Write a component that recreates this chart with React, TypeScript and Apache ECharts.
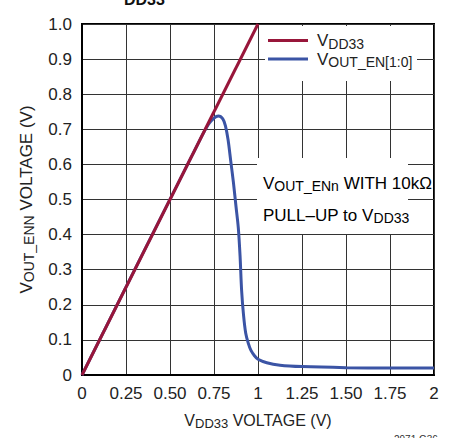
import React, { useEffect, useRef } from "react";
import * as echarts from "echarts";

const X_TICK_LABELS = ["0", "0.25", "0.50", "0.75", "1", "1.25", "1.50", "1.75", "2"];
const Y_TICK_LABELS = ["0", "0.1", "0.2", "0.3", "0.4", "0.5", "0.6", "0.7", "0.8", "0.9", "1.0"];

const VDD33_X = [0, 1];
const VDD33_Y = [0, 1];

const VOUT_X = [0, 0.68, 0.72, 0.75, 0.775, 0.8, 0.815, 0.83, 0.845, 0.86, 0.875, 0.888, 0.898, 0.907, 0.918, 0.93, 0.945, 0.96, 0.98, 1.0, 1.05, 1.125, 1.25, 1.5, 1.75, 2];
const VOUT_Y = [0, 0.68, 0.715, 0.732, 0.738, 0.73, 0.71, 0.67, 0.61, 0.55, 0.48, 0.42, 0.34, 0.24, 0.17, 0.12, 0.09, 0.07, 0.055, 0.045, 0.035, 0.028, 0.024, 0.021, 0.02, 0.02];

const FONT = "'Liberation Sans', Arial, sans-serif";
const TXT = "#222";

const rich = {
  m: { fontSize: 17, lineHeight: 20, fontFamily: FONT, color: TXT },
  sub: { fontSize: 14, lineHeight: 12, verticalAlign: "bottom", fontFamily: FONT, color: TXT },
};
const richX = {
  m: { fontSize: 16, lineHeight: 20, fontFamily: FONT, color: TXT },
  sub: { fontSize: 13, lineHeight: 12, verticalAlign: "bottom", fontFamily: FONT, color: TXT },
};

export default function App() {
  const ref = useRef<HTMLDivElement>(null);
  useEffect(() => {
    document.body.style.margin = "0";
    const chart = echarts.init(ref.current!, null, { renderer: "svg" });
    const vddData = VDD33_X.map((x, i) => [x, VDD33_Y[i]]);
    const voutData = VOUT_X.map((x, i) => [x, VOUT_Y[i]]);
    chart.setOption({
      animation: false,
      backgroundColor: "#fff",
      grid: { left: 82, right: 19, top: 24, bottom: 63, show: true, borderColor: "#000", borderWidth: 2 },
      xAxis: {
        type: "value",
        min: 0,
        max: 2,
        interval: 0.25,
        name: "{m|V}{sub|DD33}{m| VOLTAGE (V)}",
        nameLocation: "middle",
        nameGap: 35,
        nameTextStyle: { rich: richX },
        axisLine: { lineStyle: { color: "#000", width: 2 } },
        axisTick: { show: false },
        axisLabel: {
          fontSize: 17,
          fontFamily: FONT,
          color: TXT,
          margin: 10,
          formatter: (v: number) => X_TICK_LABELS[Math.round(v / 0.25)] ?? "",
        },
        splitLine: { show: true, lineStyle: { color: "#333", width: 1 } },
      },
      yAxis: {
        type: "value",
        min: 0,
        max: 1,
        interval: 0.1,
        name: "{m|V}{sub|OUT_ENN}{m| VOLTAGE (V)}",
        nameLocation: "middle",
        nameRotate: 90,
        nameGap: 46,
        nameTextStyle: { rich },
        axisLine: { lineStyle: { color: "#000", width: 2 } },
        axisTick: { show: false },
        axisLabel: {
          fontSize: 17,
          fontFamily: FONT,
          color: TXT,
          margin: 10,
          formatter: (v: number) => Y_TICK_LABELS[Math.round(v * 10)] ?? "",
        },
        splitLine: { show: true, lineStyle: { color: "#333", width: 1 } },
      },
      legend: {
        orient: "vertical",
        left: 268,
        top: 32,
        padding: 0,
        itemGap: 0,
        itemWidth: 40,
        itemHeight: 3,
        icon: "rect",
        z: 60,
        data: ["VDD33", "VOUT"],
        formatter: (name: string) =>
          name === "VDD33" ? "{m|V}{sub|DD33}" : "{m|V}{sub|OUT_EN[1:0]}",
        textStyle: { rich, padding: [0, 0, 0, 4] },
      },
      graphic: [
        { type: "rect", z: 50, shape: { x: 265, y: 26, width: 152, height: 55 }, style: { fill: "#fff" } },
        { type: "rect", z: 50, shape: { x: 257, y: 158, width: 151, height: 76 }, style: { fill: "#fff" } },
        {
          type: "text", z: 55, x: 263, y: 183,
          style: { text: "{m|V}{sub|OUT_ENn}{m| WITH 10kΩ}", rich, verticalAlign: "middle" },
        },
        {
          type: "text", z: 55, x: 263, y: 215,
          style: { text: "{m|PULL–UP to V}{sub|DD33}", rich, verticalAlign: "middle" },
        },
        {
          type: "text", z: 55, x: 124, y: -9,
          style: { text: "DD33", font: "bold 16px 'Liberation Sans', Arial, sans-serif", fill: "#111" },
        },
        {
          type: "text", z: 55, x: 394, y: 434,
          style: { text: "2971 G36", font: "10px 'Liberation Sans', Arial, sans-serif", fill: "#333" },
        },
      ],
      series: [
        {
          name: "VOUT",
          type: "line",
          data: voutData,
          showSymbol: false,
          symbol: "none",
          smooth: 0.3,
          lineStyle: { color: "#3B54A5", width: 3 },
          itemStyle: { color: "#3B54A5" },
          z: 3,
        },
        {
          name: "VDD33",
          type: "line",
          data: vddData,
          showSymbol: false,
          symbol: "none",
          lineStyle: { color: "#98163A", width: 3 },
          itemStyle: { color: "#98163A" },
          z: 4,
        },
      ],
    });
    return () => chart.dispose();
  }, []);
  return <div ref={ref} style={{ width: 453, height: 438, position: "absolute", left: 0, top: 0 }} />;
}
